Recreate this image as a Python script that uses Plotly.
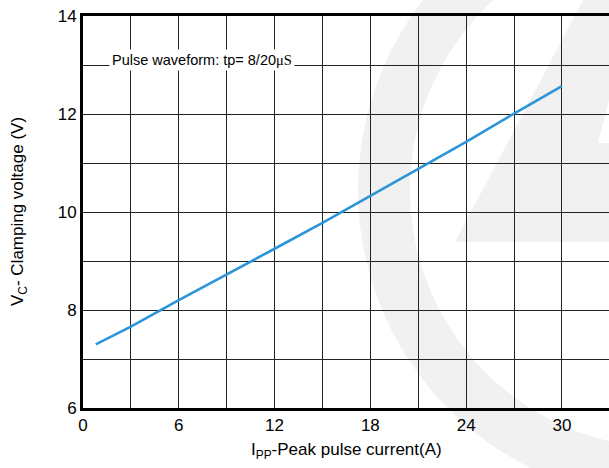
import math
import plotly.graph_objects as go

# ---- data ----
ipp_a = [0.8, 3, 6, 9, 12, 15, 18, 21, 24, 27, 30]
vc_v = [7.30, 7.66, 8.20, 8.72, 9.25, 9.78, 10.33, 10.89, 11.43, 12.01, 12.57]
x_ticks = [0, 6, 12, 18, 24, 30]
y_ticks = [6, 8, 10, 12, 14]

W, H = 609, 468
ML, MR, MT, MB = 83, 0, 16, 60
PL, PR, PT, PB = ML, W - MR, MT, H - MB  # plot area in pixels
PW, PH = PR - PL, PB - PT


def px(x):
    return (x - PL) / PW


def py(y):
    return (PB - y) / PH


FONT = "Liberation Sans, Arial, sans-serif"
WM = "#f1f1f1"

fig = go.Figure()
fig.add_trace(go.Scatter(x=ipp_a, y=vc_v, mode="lines",
                         line=dict(color="#2b95d8", width=2.6),
                         showlegend=False, hoverinfo="skip"))

# ---- watermark (logo) in paper coords ----
cx, cy, ro, ri = 668, 190, 310, 258


def arc(r, a0, a1, n=120):
    pts = []
    for i in range(n + 1):
        a = a0 + (a1 - a0) * i / n
        pts.append((cx + r * math.cos(a), cy + r * math.sin(a)))
    return pts

outer = arc(ro, 0, 2 * math.pi)
inner = arc(ri, 2 * math.pi, 0)
path = "M " + " L ".join(f"{px(x):.4f},{py(y):.4f}" for x, y in outer) + " Z "
path += "M " + " L ".join(f"{px(x):.4f},{py(y):.4f}" for x, y in inner) + " Z"
fig.add_shape(type="path", path=path, xref="paper", yref="paper",
              fillcolor=WM, line=dict(width=0), layer="below", fillrule="evenodd")

slash = [(455, 242), (583, 0), (609, 0), (609, 100), (598, 143), (609, 143), (609, 242)]
spath = "M " + " L ".join(f"{px(x):.4f},{py(y):.4f}" for x, y in slash) + " Z"
fig.add_shape(type="path", path=spath, xref="paper", yref="paper",
              fillcolor=WM, line=dict(width=0), layer="below")

fig.add_annotation(x=1.6, y=13.1, xref="x", yref="y", xanchor="left", yanchor="middle",
                   text="Pulse waveform: tp= 8/20<span style='font-family:Liberation Serif, Times New Roman, serif'>μS</span>",
                   showarrow=False, bgcolor="white", borderpad=2,
                   font=dict(family=FONT, size=14.5, color="black"))

# axis titles as annotations for exact placement
fig.add_annotation(x=px(346), y=py(451), xref="paper", yref="paper",
                   xanchor="center", yanchor="middle", showarrow=False,
                   text="I<sub>PP</sub>-Peak pulse current(A)",
                   font=dict(family=FONT, size=17, color="black"))
fig.add_annotation(x=px(19), y=py(212), xref="paper", yref="paper",
                   xanchor="center", yanchor="middle", showarrow=False, textangle=-90,
                   text="V<sub>C</sub>- Clamping voltage (V)",
                   font=dict(family=FONT, size=17, color="black"))

fig.update_xaxes(range=[0, 32.95], tickvals=x_ticks, automargin=False,
                 showgrid=True, gridcolor="#222", gridwidth=1,
                 showline=True, linecolor="black", linewidth=3, mirror=True,
                 ticks="", zeroline=False,
                 tickfont=dict(family=FONT, size=17, color="black"),
                 minor=dict(dtick=3, tick0=0, showgrid=True, gridcolor="#222", gridwidth=1))
fig.update_yaxes(range=[6, 14], tickvals=y_ticks, automargin=False,
                 showgrid=True, gridcolor="#222", gridwidth=1,
                 showline=True, linecolor="black", linewidth=3,
                 mirror=False, ticks="", zeroline=False,
                 tickfont=dict(family=FONT, size=17, color="black"),
                 minor=dict(dtick=1, tick0=6, showgrid=True, gridcolor="#222", gridwidth=1))

fig.update_layout(width=W, height=H,
                  margin=dict(l=ML, r=MR, t=MT, b=MB),
                  paper_bgcolor="white", plot_bgcolor="rgba(0,0,0,0)",
                  showlegend=False)

fig.write_html("out.html", config={"displayModeBar": False},
               post_script="document.body.style.margin='0';document.body.style.overflow='hidden';")
